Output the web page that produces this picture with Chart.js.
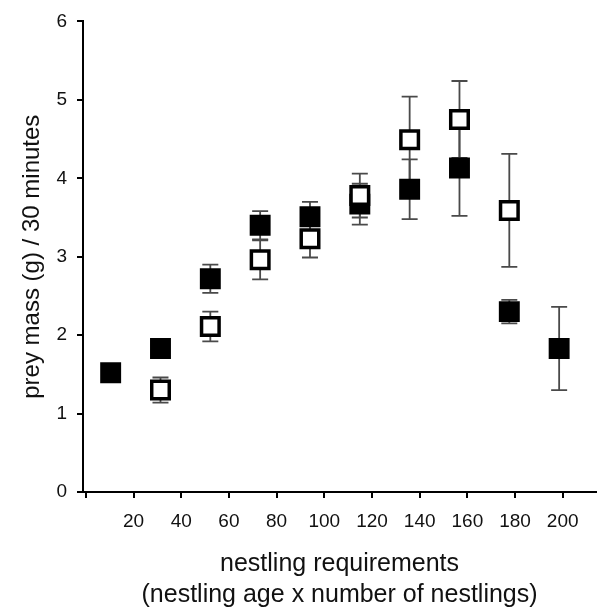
<!DOCTYPE html>
<html>
<head>
<meta charset="utf-8">
<script src="https://cdn.jsdelivr.net/npm/chart.js@4.4.0/dist/chart.umd.min.js"></script>
<style>
  html, body { margin: 0; padding: 0; background: #fff; }
  #c { display: block; }
</style>
</head>
<body>
<canvas id="c" width="612" height="611"></canvas>
<script>
// x positions (nestling requirements)
const xValues = [10.4, 31.3, 52.2, 73.1, 94.0, 114.9, 135.8, 156.7, 177.6, 198.5];
// filled squares
const filledMeans = [1.52, 1.83, 2.72, 3.40, 3.51, 3.67, 3.86, 4.13, 2.30, 1.83];
const filledErrors = [0, 0, 0.18, 0.18, 0.19, 0.26, 0.38, 0.61, 0.15, 0.53];
// open squares
const openMeans = [null, 1.30, 2.11, 2.96, 3.23, 3.78, 4.49, 4.75, 3.59, null];
const openErrors = [null, 0.16, 0.19, 0.25, 0.24, 0.28, 0.55, 0.49, 0.72, null];
// axis ticks
const xTicks = [0, 20, 40, 60, 80, 100, 120, 140, 160, 180, 200];
const yTicks = [0, 1, 2, 3, 4, 5, 6];

const FONT = "'Liberation Sans', Arial, Helvetica, sans-serif";

function toPoints(means) {
  const pts = [];
  means.forEach((m, i) => { if (m !== null) pts.push({ x: xValues[i], y: m }); });
  return pts;
}
function toErrors(means, errs) {
  const out = [];
  means.forEach((m, i) => { if (m !== null) out.push(errs[i]); });
  return out;
}

const errorBarPlugin = {
  id: 'errorBars',
  beforeDatasetsDraw(chart) {
    const ctx = chart.ctx;
    const xs = chart.scales.x, ys = chart.scales.y;
    ctx.save();
    ctx.strokeStyle = '#4a4a4a';
    ctx.lineWidth = 1.8;
    chart.data.datasets.forEach(ds => {
      ds.data.forEach((p, i) => {
        const e = ds.errors[i];
        if (!e) return;
        const px = xs.getPixelForValue(p.x);
        const top = ys.getPixelForValue(p.y + e);
        const bot = ys.getPixelForValue(p.y - e);
        const cw = 8;
        ctx.beginPath();
        ctx.moveTo(px, top); ctx.lineTo(px, bot);
        ctx.moveTo(px - cw, top); ctx.lineTo(px + cw, top);
        ctx.moveTo(px - cw, bot); ctx.lineTo(px + cw, bot);
        ctx.stroke();
      });
    });
    ctx.restore();
  }
};

new Chart(document.getElementById('c'), {
  type: 'scatter',
  data: {
    datasets: [
      {
        label: 'open',
        data: toPoints(openMeans),
        errors: toErrors(openMeans, openErrors),
        pointStyle: 'rect',
        pointRadius: 12.4,
        pointHoverRadius: 12.4,
        backgroundColor: '#ffffff',
        borderColor: '#000000',
        borderWidth: 3.5,
        pointBorderWidth: 3.5,
        order: 0
      },
      {
        label: 'filled',
        data: toPoints(filledMeans),
        errors: toErrors(filledMeans, filledErrors),
        pointStyle: 'rect',
        pointRadius: 14.8,
        pointHoverRadius: 14.8,
        backgroundColor: '#000000',
        borderColor: '#000000',
        borderWidth: 0,
        pointBorderWidth: 0,
        order: 1
      }
    ]
  },
  options: {
    responsive: false,
    devicePixelRatio: 1,
    animation: false,
    layout: { padding: { top: 17, right: 12, left: 0, bottom: 0 } },
    plugins: { legend: { display: false }, tooltip: { enabled: false } },
    scales: {
      x: {
        type: 'linear',
        min: -1.2,
        max: 214,
        afterBuildTicks(scale) { scale.ticks = xTicks.map(v => ({ value: v })); },
        afterFit(scale) { scale.height = 119; },
        ticks: {
          autoSkip: false,
          maxRotation: 0,
          padding: 12,
          color: '#111',
          font: { family: FONT, size: 19 },
          callback: v => (v === 0 ? '' : String(v))
        },
        grid: { display: true, drawOnChartArea: false, drawTicks: true, tickLength: 6, color: '#000', lineWidth: 2 },
        border: { display: true, color: '#000', width: 2 },
        title: {
          display: true,
          text: ['nestling requirements', '(nestling age x number of nestlings)'],
          color: '#111',
          font: { family: FONT, size: 25, lineHeight: 1.25 },
          padding: { top: 0, bottom: 0 }
        }
      },
      y: {
        type: 'linear',
        min: 0,
        max: 6,
        afterBuildTicks(scale) { scale.ticks = yTicks.map(v => ({ value: v })); },
        afterFit(scale) { scale.width = 83; },
        ticks: {
          autoSkip: false,
          padding: 10,
          color: '#111',
          font: { family: FONT, size: 19 }
        },
        grid: { display: true, drawOnChartArea: false, drawTicks: true, tickLength: 6, color: '#000', lineWidth: 2 },
        border: { display: true, color: '#000', width: 2 },
        title: {
          display: true,
          text: 'prey mass (g) / 30 minutes',
          color: '#111',
          font: { family: FONT, size: 24, lineHeight: 1.25 },
          padding: { top: 17, bottom: 0 }
        }
      }
    }
  },
  plugins: [errorBarPlugin]
});
</script>
</body>
</html>
